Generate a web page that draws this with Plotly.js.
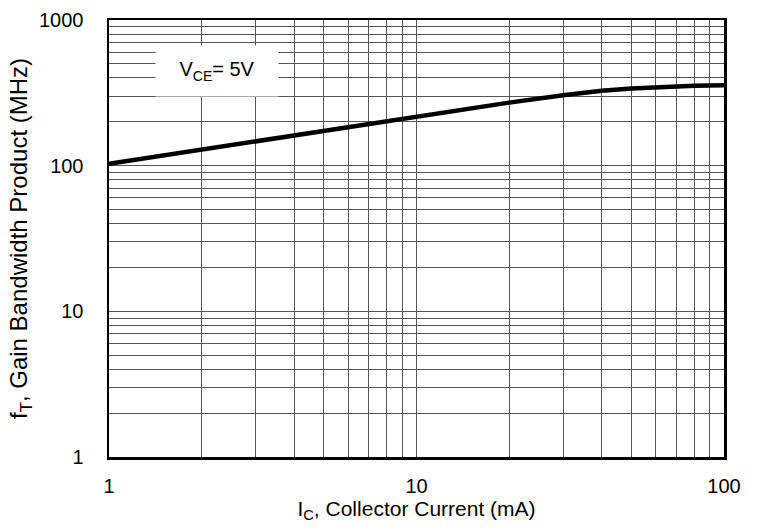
<!DOCTYPE html>
<html><head><meta charset="utf-8">
<script src="https://cdn.plot.ly/plotly-3.0.1.min.js"></script>
<style>html,body{margin:0;padding:0;background:#fff}#c{width:758px;height:531px}</style>
</head><body><div id="c"></div>
<script>
const currentMA = [1, 2, 3, 4, 5, 7, 10, 20, 30, 40, 50, 60, 70, 80, 100];
const ftMHz = [103, 129, 148, 163, 175, 196, 220, 271, 304, 327, 339, 346, 350, 353, 356];
const xMajorTicks = [1, 10, 100];
const xMajorLabels = ['1', '10', '100'];
const xMinorTicks = [2,3,4,5,6,7,8,9,20,30,40,50,60,70,80,90];
const yMajorTicks = [1, 10, 100, 1000];
const yMajorLabels = ['1', '10', '100', '1000'];
const yMinorTicks = [2,3,4,5,6,7,8,9,20,30,40,50,60,70,80,90,200,300,400,500,600,700,800,900];
const annotationText = 'V<sub>CE</sub>= 5V';
const xTitle = 'I<sub>C</sub>, Collector Current (mA)';
const yTitle = 'f<sub>T</sub>, Gain Bandwidth Product (MHz)';

const fam = '"Liberation Sans", Arial, sans-serif';
const tickFont = {family: fam, size: 20, color: '#000'};
const gridCol = '#555';
const trace = {x: currentMA, y: ftMHz, mode: 'lines', type: 'scatter',
  line: {color: '#000', width: 4.5, shape: 'linear'}, hoverinfo: 'skip'};
const minorGridCarrier = {x: currentMA, y: ftMHz, xaxis: 'x2', yaxis: 'y2', mode: 'lines', type: 'scatter',
  opacity: 0, line: {color: 'rgba(0,0,0,0)', width: 0}, hoverinfo: 'skip'};
const layout = {
  width: 758, height: 531,
  margin: {l: 109, r: 34, t: 20, b: 74},
  paper_bgcolor: '#fff', plot_bgcolor: '#fff',
  font: tickFont, showlegend: false,
  xaxis: {type: 'log', range: [0, 2], tickmode: 'array', tickvals: xMajorTicks, ticktext: xMajorLabels,
    showgrid: true, gridcolor: gridCol, gridwidth: 1, zeroline: false,
    showline: true, linecolor: '#000', linewidth: 2.5, mirror: true,
    ticks: 'outside', ticklen: 9, tickcolor: 'rgba(0,0,0,0)', tickfont: tickFont,
    title: {text: xTitle, font: {family: fam, size: 21, color: '#000'}, standoff: 6}},
  yaxis: {type: 'log', range: [0, 3], tickmode: 'array', tickvals: yMajorTicks, ticktext: yMajorLabels,
    showgrid: true, gridcolor: gridCol, gridwidth: 1, zeroline: false,
    showline: true, linecolor: '#000', linewidth: 2.5, mirror: true,
    ticks: 'outside', ticklen: 19, tickcolor: 'rgba(0,0,0,0)', tickfont: tickFont,
    title: {text: yTitle, font: {family: fam, size: 24, color: '#000'}, standoff: 5}},
  xaxis2: {type: 'log', range: [0, 2], overlaying: 'x', anchor: 'y2', tickmode: 'array', tickvals: xMinorTicks,
    showticklabels: false, ticks: '', showgrid: true, gridcolor: gridCol, gridwidth: 1, zeroline: false, showline: false},
  yaxis2: {type: 'log', range: [0, 3], overlaying: 'y', anchor: 'x2', tickmode: 'array', tickvals: yMinorTicks,
    showticklabels: false, ticks: '', showgrid: true, gridcolor: gridCol, gridwidth: 1, zeroline: false, showline: false},
  annotations: [{xref: 'paper', yref: 'paper', x: (217-109)/615, y: (457-71)/437,
    text: annotationText, showarrow: false, bgcolor: '#fff', width: 120, height: 48,
    font: {family: fam, size: 20, color: '#000'}, xanchor: 'center', yanchor: 'middle'}]
};
Plotly.newPlot('c', [minorGridCarrier, trace], layout, {staticPlot: true, displayModeBar: false});
</script></body></html>
